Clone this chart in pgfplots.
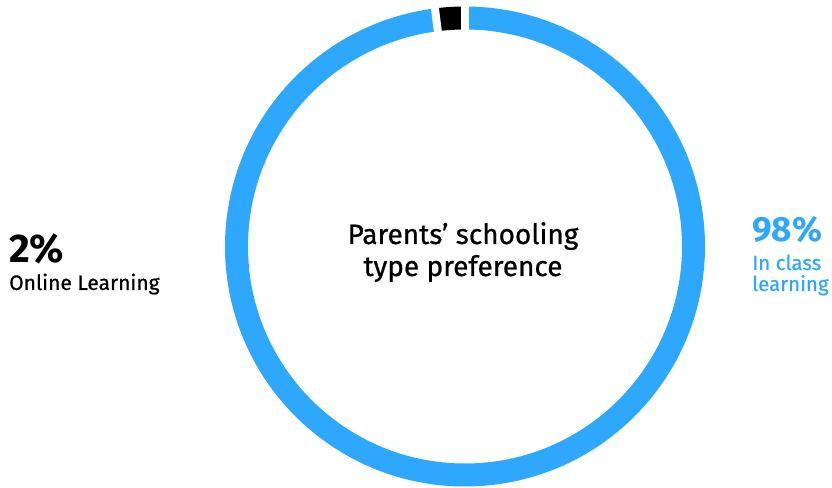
\documentclass[border=0pt]{standalone}
\usepackage{pgfplots}
\usepackage{pgfplotstable}
\pgfplotsset{compat=1.18}
\usepackage{fontspec}
\setmainfont{Fira Sans}
\newfontfamily\medfont{Fira Sans}[FakeBold=0.7]
\definecolor{classblue}{RGB}{46,168,255}

% share of parents (percent) per schooling type
\pgfplotstableread{
share label
98 {In class learning}
2 {Online Learning}
}\prefs
\pgfplotstablegetelem{0}{share}\of\prefs \let\inclass\pgfplotsretval
\pgfplotstablegetelem{1}{share}\of\prefs \let\online\pgfplotsretval
% segment boundaries, clockwise from the top
\pgfmathsetmacro\angA{90}
\pgfmathsetmacro\angB{90-3.6*\inclass}
\pgfmathsetmacro\angC{\angB-3.6*\online}

\begin{document}
\begin{tikzpicture}
\begin{axis}[
  name=ax,
  hide axis, scale only axis,
  x=1pt, y=1pt,
  xmin=0, xmax=832, ymin=-487, ymax=0,
  clip=false,
]
\coordinate (c) at (axis cs:465,-246.5);
% ring segments
\draw[classblue, line width=23pt] (c) ++(\angA:228.5pt) arc[start angle=\angA, end angle=\angB, radius=228.5pt];
\draw[black, line width=23pt] (c) ++(\angB:228.5pt) arc[start angle=\angB, end angle=\angC, radius=228.5pt];
% white separators
\draw[white, line width=8pt] (c) ++(\angA:212pt) -- ++(\angA:33pt);
\draw[white, line width=8pt] (c) ++(\angB:212pt) -- ++(\angB:33pt);
% centre title
\node[anchor=base, inner sep=0pt, font=\medfont\fontsize{28}{30}\selectfont] at (axis cs:463,-244) {Parents’ schooling};
\node[anchor=base, inner sep=0pt, font=\medfont\fontsize{28}{30}\selectfont] at (axis cs:463,-276) {type preference};
% left label
\node[anchor=base west, inner sep=0pt, font=\fontsize{40}{44}\selectfont\bfseries] at (axis cs:9,-263) {\online\%};
\node[anchor=base west, inner sep=0pt, font=\medfont\fontsize{21}{24}\selectfont] at (axis cs:9,-290) {Online Learning};
% right label
\node[anchor=base west, inner sep=0pt, text=classblue, font=\fontsize{35}{40}\selectfont\bfseries] at (axis cs:752,-242) {\inclass\%};
\node[anchor=base west, inner sep=0pt, text=classblue, font=\medfont\fontsize{20.5}{24}\selectfont] at (axis cs:752,-270) {In class};
\node[anchor=base west, inner sep=0pt, text=classblue, font=\medfont\fontsize{20.5}{24}\selectfont] at (axis cs:752,-291) {learning};
\end{axis}
\pgfresetboundingbox
\path (ax.south west) rectangle (ax.north east);
\end{tikzpicture}
\end{document}
